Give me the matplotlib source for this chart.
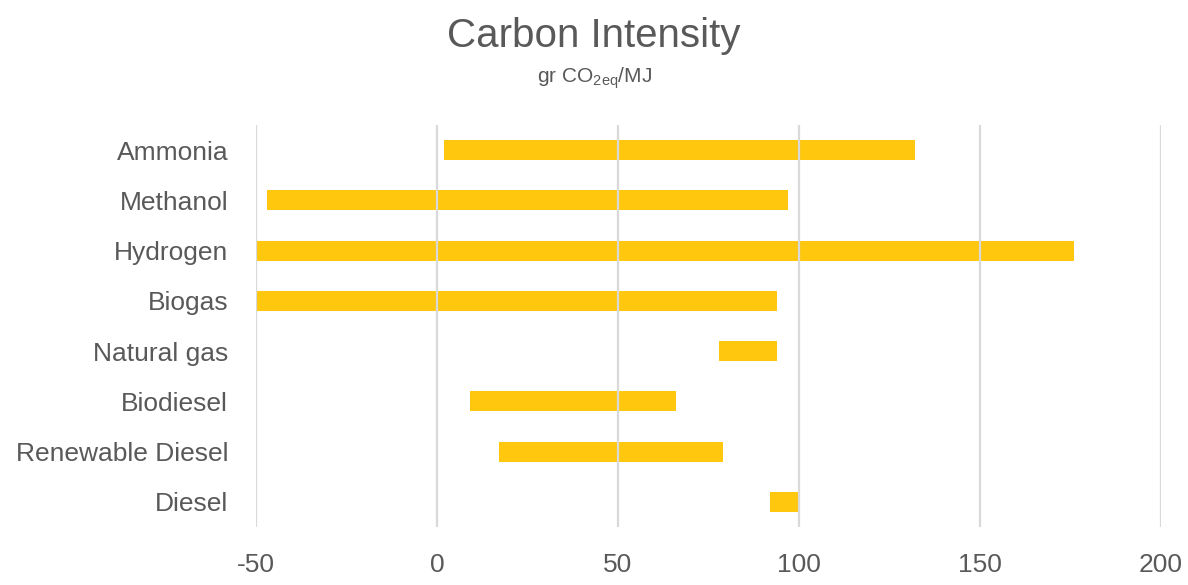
import matplotlib.pyplot as plt

# carbon intensity ranges per fuel, gr CO2eq/MJ
fuels = ["Ammonia", "Methanol", "Hydrogen", "Biogas", "Natural gas",
         "Biodiesel", "Renewable Diesel", "Diesel"]
ci_low = [2, -47, -50, -50, 78, 9, 17, 92]
ci_high = [132, 97, 176, 94, 94, 66, 79, 100]

plt.rcParams['font.family'] = ['Liberation Sans', 'DejaVu Sans']
plt.rcParams['mathtext.fontset'] = 'custom'
plt.rcParams['mathtext.rm'] = 'Liberation Sans'
plt.rcParams['axes.unicode_minus'] = False

grey = '#595959'
fig = plt.figure(figsize=(11.88, 5.85), dpi=100)
ax = fig.add_axes([0.2155, 0.099, 0.7618, 0.6875])

ypos = list(range(len(fuels)))
widths = [h - l for l, h in zip(ci_low, ci_high)]
ax.barh(ypos, widths, left=ci_low, height=0.4, color='#FFC70E', zorder=1)

ax.set_xlim(-50, 200)
ax.set_xticks([-50, 0, 50, 100, 150, 200])
ax.set_ylim(len(fuels) - 0.5, -0.5)
ax.set_yticks(ypos)
ax.set_yticklabels(fuels)

# grid drawn over the bars
ax.set_axisbelow(False)
ax.grid(axis='x', color='#d9d9d9', linewidth=1.6, zorder=2)
ax.grid(axis='y', visible=False)
for s in ax.spines.values():
    s.set_visible(False)
ax.tick_params(axis='both', length=0, labelsize=19, labelcolor=grey)
ax.tick_params(axis='y', pad=20)
ax.tick_params(axis='x', pad=19)

fig.text(0.5, 0.938, "Carbon Intensity", ha='center', va='center',
         fontsize=29, color=grey)
fig.text(0.5, 0.866, r"gr CO$_{\mathrm{2eq}}$/MJ", ha='center', va='center',
         fontsize=15, color=grey)

fig.savefig('out.png', dpi=100)
